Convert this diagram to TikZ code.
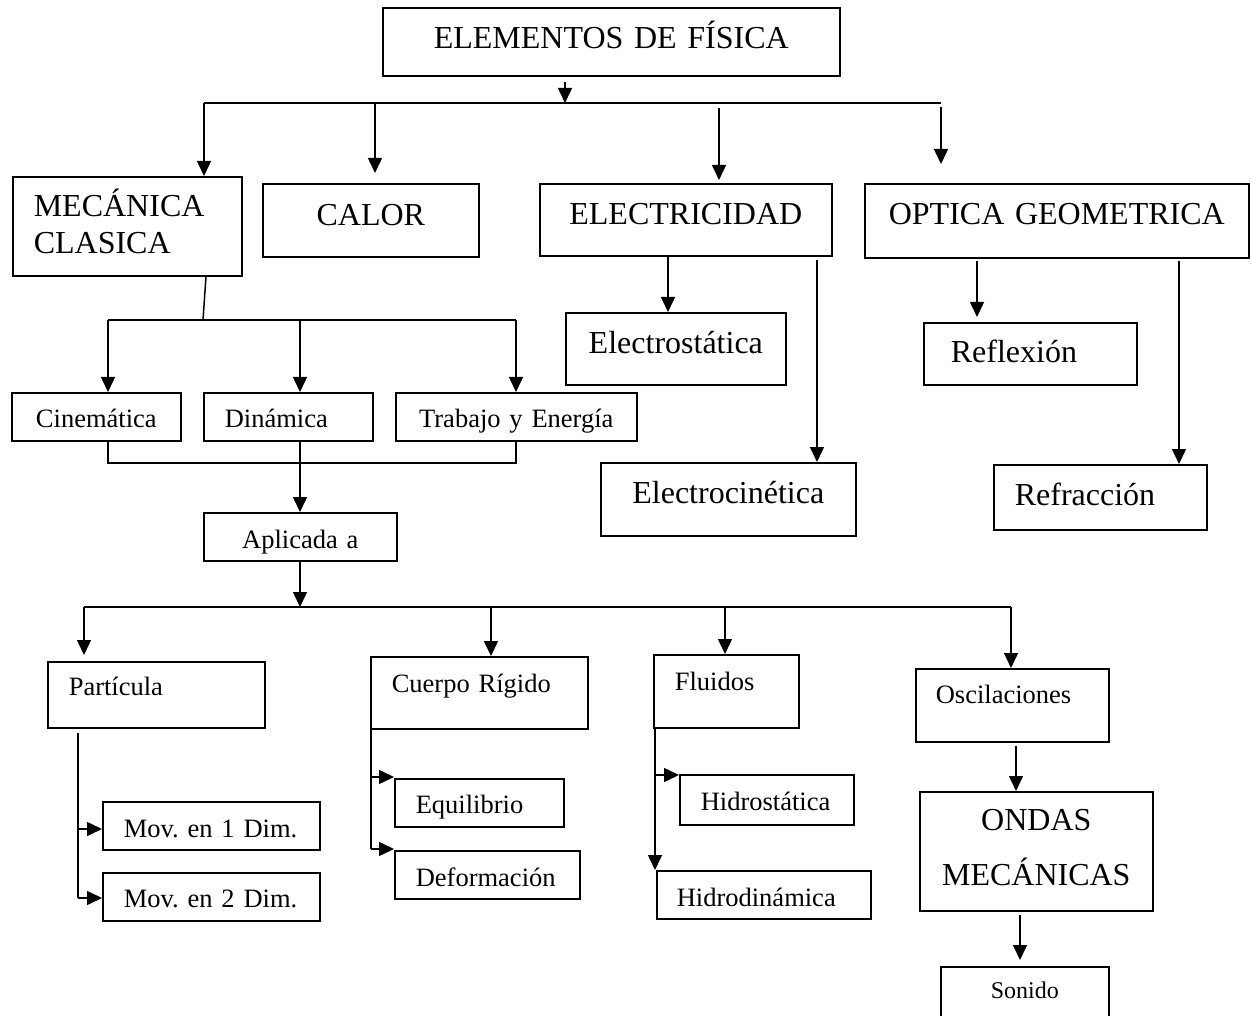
\documentclass[tikz,border=0pt]{standalone}
\usepackage{fontspec}
\setmainfont{Liberation Serif}
\usetikzlibrary{arrows.meta}
\frenchspacing

\newcommand{\grande}{\fontsize{32}{37}\selectfont}
\newcommand{\chico}{\fontsize{26.5}{31}\selectfont}
\newcommand{\menor}{\fontsize{24}{28}\selectfont}

\begin{document}
\begin{tikzpicture}[x=1pt,y=-1pt,
  caja/.style={draw,line width=1.6pt,anchor=north west,inner xsep=0pt,inner ysep=0pt,align=center},
  izq/.style={align=left,inner xsep=21pt},
  linea/.style={line width=1.5pt},
  flecha/.style={line width=1.5pt,-{Triangle[length=15pt,width=14pt]}}]
  \useasboundingbox (0,0) rectangle (1251,1016);

  \node[caja,font=\grande,text width=457pt,text height=41pt,text depth=27pt] (titulo) at (382,7) {ELEMENTOS DE FÍSICA};
  \node[caja,izq,font=\grande,text width=187pt,text height=40pt,text depth=59pt] (meca) at (12,176) {MECÁNICA\\CLASICA};
  \node[caja,font=\grande,text width=216pt,text height=42pt,text depth=31pt] (calor) at (262,183) {CALOR};
  \node[caja,font=\grande,text width=292pt,text height=41pt,text depth=31pt] (elec) at (539,183) {ELECTRICIDAD};
  \node[caja,font=\grande,text width=384pt,text height=41pt,text depth=33pt] (optica) at (864,183) {OPTICA GEOMETRICA};

  \node[caja,font=\grande,text width=220pt,text height=41pt,text depth=31pt] (estat) at (565,312) {Electrostática};
  \node[caja,font=\grande,text width=255pt,text height=41pt,text depth=32pt] (cinet) at (600,462) {Electrocinética};
  \node[caja,izq,inner xsep=27pt,font=\grande,text width=159pt,text height=40pt,text depth=22pt] (refle) at (923,322) {Reflexión};
  \node[caja,izq,font=\grande,text width=171pt,text height=41pt,text depth=24pt] (refra) at (993,464) {Refracción};

  \node[caja,font=\chico,text width=169pt,text height=35pt,text depth=13pt] (cine) at (11,392) {Cinemática};
  \node[caja,izq,font=\chico,text width=127pt,text height=35pt,text depth=13pt] (dina) at (203,392) {Dinámica};
  \node[caja,font=\chico,text width=241pt,text height=35pt,text depth=13pt] (trab) at (395,392) {Trabajo y Energía};
  \node[caja,font=\chico,text width=193pt,text height=36pt,text depth=12pt] (apli) at (203,512) {Aplicada a};

  \node[caja,izq,font=\chico,text width=175pt,text height=34pt,text depth=32pt] (part) at (47,661) {Partícula};
  \node[caja,izq,font=\chico,text width=175pt,text height=36pt,text depth=36pt] (cuer) at (370,656) {Cuerpo Rígido};
  \node[caja,izq,font=\chico,text width=103pt,text height=36pt,text depth=37pt] (flui) at (653,654) {Fluidos};
  \node[caja,izq,inner xsep=20pt,font=\chico,text width=153pt,text height=35pt,text depth=38pt] (osci) at (915,668) {Oscilaciones};

  \node[caja,izq,font=\chico,text width=175pt,text height=36pt,text depth=12pt] (mov1) at (102,801) {Mov. en 1 Dim.};
  \node[caja,izq,font=\chico,text width=175pt,text height=35pt,text depth=13pt] (mov2) at (102,872) {Mov. en 2 Dim.};
  \node[caja,izq,font=\chico,text width=127pt,text height=35pt,text depth=13pt] (equi) at (394,778) {Equilibrio};
  \node[caja,izq,font=\chico,text width=143pt,text height=36pt,text depth=12pt] (defo) at (394,850) {Deformación};
  \node[caja,izq,font=\chico,text width=132pt,text height=36pt,text depth=14pt] (hest) at (679,774) {Hidrostática};
  \node[caja,izq,inner xsep=20pt,font=\chico,text width=174pt,text height=36pt,text depth=12pt] (hdin) at (656,870) {Hidrodinámica};
  \node[caja,font={\fontsize{32}{55}\selectfont},text width=233pt,text height=39pt,text depth=80pt] (ondas) at (919,791) {ONDAS\\MECÁNICAS};
  \node[caja,font=\menor,text width=168pt,text height=32pt,text depth=20pt] (soni) at (940,966) {Sonido};

  \coordinate (b0) at (565,103);
  \coordinate (b1) at (204,103);
  \coordinate (b2) at (375,103);
  \coordinate (b3) at (719,103);
  \coordinate (b4) at (941,103);
  \draw[flecha,shorten <=5pt] (titulo.south -| b0) -- (b0);
  \draw[linea] (b1) -- (b4);
  \draw[flecha] (b1) -- (meca.north -| b1);
  \draw[flecha,shorten >=10pt] (b2) -- (calor.north -| b2);
  \draw[flecha,shorten <=5pt,shorten >=3pt] (b3) -- (elec.north -| b3);
  \draw[flecha,shorten <=4pt,shorten >=19pt] (b4) -- (optica.north -| b4);

  \coordinate (m0) at (206,0);
  \coordinate (c0) at (203,320);
  \coordinate (c1) at (108,320);
  \coordinate (c2) at (300,320);
  \coordinate (c3) at (516,320);
  \draw[linea] (meca.south -| m0) -- (c0);
  \draw[linea] (c1) -- (c3);
  \draw[flecha] (c1) -- (cine.north -| c1);
  \draw[flecha] (c2) -- (dina.north -| c2);
  \draw[flecha] (c3) -- (trab.north -| c3);

  \coordinate (d1) at (108,463);
  \coordinate (d2) at (300,463);
  \coordinate (d3) at (516,463);
  \draw[line width=2.5pt] (cine.south -| d1) -- (d1) -- (d3) -- (trab.south -| d3);
  \draw[linea] (dina.south -| d2) -- (d2);
  \draw[flecha] (d2) -- (apli.north -| d2);

  \coordinate (e0) at (300,607);
  \coordinate (e1) at (84,607);
  \coordinate (e2) at (491,607);
  \coordinate (e3) at (725,607);
  \coordinate (e4) at (1011,607);
  \draw[flecha] (apli.south -| e0) -- (e0);
  \draw[linea] (e1) -- (e4);
  \draw[flecha,shorten >=6pt] (e1) -- (part.north -| e1);
  \draw[flecha] (e2) -- (cuer.north -| e2);
  \draw[flecha] (e3) -- (flui.north -| e3);
  \draw[flecha] (e4) -- (osci.north -| e4);

  \coordinate (p1) at (78,829);
  \coordinate (p2) at (78,898);
  \draw[linea,shorten <=4pt] (part.south -| p1) -- (p2);
  \draw[flecha] (p1) -- (mov1.west |- p1);
  \draw[flecha] (p2) -- (mov2.west |- p2);

  \coordinate (q1) at (371,777);
  \coordinate (q2) at (371,849);
  \draw[linea] (cuer.south -| q1) -- (q2);
  \draw[flecha] (q1) -- (equi.west |- q1);
  \draw[flecha] (q2) -- (defo.west |- q2);

  \coordinate (r1) at (655,775);
  \draw[flecha] (flui.south -| r1) -- (hdin.north -| r1);
  \draw[flecha] (r1) -- (hest.west |- r1);

  \coordinate (s1) at (1016,0);
  \coordinate (s2) at (1020,0);
  \draw[flecha,shorten <=3pt] (osci.south -| s1) -- (ondas.north -| s1);
  \draw[flecha,shorten <=3pt,shorten >=6pt] (ondas.south -| s2) -- (soni.north -| s2);

  \coordinate (t1) at (668,0);
  \coordinate (t2) at (817,0);
  \draw[flecha] (elec.south -| t1) -- (estat.north -| t1);
  \draw[flecha,shorten <=3pt] (elec.south -| t2) -- (cinet.north -| t2);

  \coordinate (u1) at (977,0);
  \coordinate (u2) at (1179,0);
  \draw[flecha,shorten <=2pt,shorten >=5pt] (optica.south -| u1) -- (refle.north -| u1);
  \draw[flecha,shorten <=2pt] (optica.south -| u2) -- (refra.north -| u2);
\end{tikzpicture}
\end{document}
